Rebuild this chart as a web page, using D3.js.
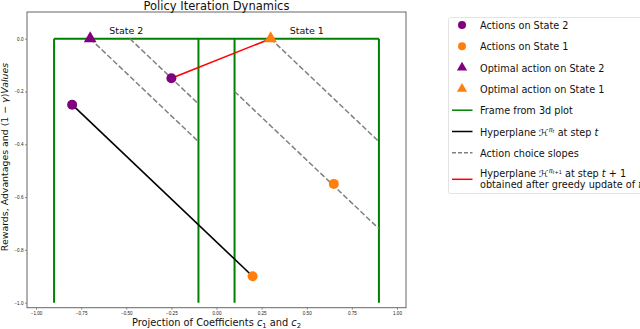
<!DOCTYPE html>
<html>
<head>
<meta charset="utf-8">
<script src="https://cdn.jsdelivr.net/npm/d3@7"></script>
<style>
  body { margin: 0; background: #fff; }
  svg { display: block; font-family: "DejaVu Sans", sans-serif; }
  .tick text { font-size: 4.6px; fill: #222; }
</style>
</head>
<body>
<svg id="chart" width="640" height="329"></svg>
<script>
// --- Data -----------------------------------------------------------
const xTicks = [-1.0, -0.75, -0.5, -0.25, 0.0, 0.25, 0.5, 0.75, 1.0];
const yTicks = [0.0, -0.2, -0.4, -0.6, -0.8, -1.0];

// green frame: verticals + top edge
const frameVerticals = [-0.9, -0.1, 0.1, 0.9];
const frameTop = [[-0.9, 0], [0.9, 0]];

const state2Actions = [[-0.8, -0.25], [-0.25, -0.15]];
const state1Actions = [[0.2, -0.9], [0.65, -0.55]];
const state2Optimal = [[-0.7, 0]];
const state1Optimal = [[0.3, 0]];

const hyperplaneT = [[-0.8, -0.25], [0.2, -0.9]];
const hyperplaneT1 = [[-0.25, -0.15], [0.3, 0]];

const slopeLines = [
  [[-0.7, 0], [-0.1, -0.39]],
  [[-0.48, 0], [-0.1, -0.247]],
  [[0.3, 0], [0.9, -0.39]],
  [[0.1, -0.2], [0.9, -0.72]]
];

const stateLabels = [
  { text: "State 2", x: -0.5 },
  { text: "State 1", x: 0.5 }
];

// --- Layout ---------------------------------------------------------
const svg = d3.select("#chart");
const axLeft = 27, axRight = 406, axTop = 12, axBottom = 307.7;

const x = d3.scaleLinear().domain([-1.05, 1.05]).range([axLeft, axRight]);
const y = d3.scaleLinear().domain([-1.019, 0.101]).range([axBottom, axTop]);

const PURPLE = "#800080", ORANGE = "#ff7f0e", GREEN = "#008000";

// axes
svg.append("g").attr("transform", `translate(0,${axBottom})`)
  .call(d3.axisBottom(x).tickValues(xTicks).tickSize(2).tickPadding(2)
    .tickFormat(d => d3.format(".2f")(d).replace("-", "\u2212")));
svg.append("g").attr("transform", `translate(${axLeft},0)`)
  .call(d3.axisLeft(y).tickValues(yTicks).tickSize(2).tickPadding(1.5)
    .tickFormat(d => d3.format(".1f")(d).replace("-", "\u2212")));
svg.selectAll(".domain").remove();
svg.selectAll(".tick line").attr("stroke", "#444").attr("stroke-width", 0.6);

svg.append("rect")
  .attr("x", axLeft).attr("y", axTop)
  .attr("width", axRight - axLeft).attr("height", axBottom - axTop)
  .attr("fill", "none").attr("stroke", "#666").attr("stroke-width", 1);

const line = d3.line().x(d => x(d[0])).y(d => y(d[1]));
const plot = svg.append("g");

// frame
frameVerticals.forEach(v => {
  plot.append("path").attr("d", line([[v, 0], [v, -1.0]]))
    .attr("stroke", GREEN).attr("stroke-width", 2).attr("fill", "none");
});
plot.append("path").attr("d", line(frameTop))
  .attr("stroke", GREEN).attr("stroke-width", 2).attr("fill", "none");

// slopes
slopeLines.forEach(s => {
  plot.append("path").attr("d", line(s))
    .attr("stroke", "#808080").attr("stroke-width", 1.5)
    .attr("stroke-dasharray", "5.5,2.4").attr("fill", "none");
});

plot.append("path").attr("d", line(hyperplaneT))
  .attr("stroke", "#000").attr("stroke-width", 1.6).attr("fill", "none");
plot.append("path").attr("d", line(hyperplaneT1))
  .attr("stroke", "#ff0000").attr("stroke-width", 1.6).attr("fill", "none");

const tri = d3.symbol().type(d3.symbolTriangle);

function circles(data, color) {
  plot.selectAll(null).data(data).enter().append("circle")
    .attr("cx", d => x(d[0])).attr("cy", d => y(d[1])).attr("r", 5)
    .attr("fill", color);
}
function triangles(data, color) {
  plot.selectAll(null).data(data).enter().append("path")
    .attr("d", tri.size(70)())
    .attr("transform", d => `translate(${x(d[0])},${y(d[1])})`)
    .attr("fill", color);
}
circles(state2Actions, PURPLE);
circles(state1Actions, ORANGE);
triangles(state2Optimal, PURPLE);
triangles(state1Optimal, ORANGE);

stateLabels.forEach(s => {
  svg.append("text").attr("x", x(s.x)).attr("y", 33.5)
    .attr("text-anchor", "middle").attr("font-size", 9.5).attr("fill", "#111")
    .text(s.text);
});

// titles
svg.append("text").attr("x", (axLeft + axRight) / 2).attr("y", 10)
  .attr("text-anchor", "middle").attr("font-size", 11.5).attr("fill", "#111")
  .text("Policy Iteration Dynamics");
svg.append("text").attr("x", (axLeft + axRight) / 2).attr("y", 325.5)
  .attr("text-anchor", "middle").attr("font-size", 9.8).attr("fill", "#111")
  .html('Projection of Coefficients <tspan font-style="italic">c</tspan><tspan font-size="6.8" dy="2">1</tspan><tspan dy="-2"> and </tspan><tspan font-style="italic">c</tspan><tspan font-size="6.8" dy="2">2</tspan>');
svg.append("text").attr("transform", "translate(7.5,157) rotate(-90)")
  .attr("text-anchor", "middle").attr("font-size", 9.4).attr("fill", "#111")
  .html('Rewards, Advantages and (1 \u2212 <tspan font-style="italic">\u03b3</tspan>)<tspan font-style="italic">Values</tspan>');

// --- Legend ---------------------------------------------------------
const lg = svg.append("g");
lg.append("rect").attr("x", 448.5).attr("y", 17.5).attr("width", 200).attr("height", 176)
  .attr("rx", 2).attr("fill", "#fff").attr("stroke", "#ddd").attr("stroke-width", 0.8);

const legendRows = [
  { kind: "circle", color: PURPLE, label: "Actions on State 2" },
  { kind: "circle", color: ORANGE, label: "Actions on State 1" },
  { kind: "tri", color: PURPLE, label: "Optimal action on State 2" },
  { kind: "tri", color: ORANGE, label: "Optimal action on State 1" },
  { kind: "line", color: GREEN, label: "Frame from 3d plot" },
  { kind: "line", color: "#000", label: 'Hyperplane <tspan>\u210b</tspan><tspan font-size="6.5" dy="-4" font-style="italic">\u03c0</tspan><tspan font-size="5" dy="1.5" font-style="italic">t</tspan><tspan dy="2.5"> at step </tspan><tspan font-style="italic">t</tspan>' },
  { kind: "dash", color: "#808080", label: "Action choice slopes" },
  { kind: "line", color: "#ff0000", label: 'Hyperplane <tspan>\u210b</tspan><tspan font-size="6.5" dy="-4" font-style="italic">\u03c0</tspan><tspan font-size="5" dy="1.5"><tspan font-style="italic">t</tspan>+1</tspan><tspan dy="2.5"> at step </tspan><tspan font-style="italic">t</tspan> + 1', label2: 'obtained after greedy update of <tspan font-style="italic">\u03c0</tspan>' }
];
const rowY = [25, 46.3, 67.6, 88.9, 110.2, 131.5, 152.8, 179.3];
legendRows.forEach((r, i) => {
  const cy = rowY[i];
  if (r.kind === "circle") {
    lg.append("circle").attr("cx", 462).attr("cy", cy).attr("r", 4).attr("fill", r.color);
  } else if (r.kind === "tri") {
    lg.append("path").attr("d", tri.size(45)()).attr("transform", `translate(462,${cy})`).attr("fill", r.color);
  } else {
    lg.append("line").attr("x1", 452).attr("x2", 472.5).attr("y1", cy).attr("y2", cy)
      .attr("stroke", r.color).attr("stroke-width", 1.5)
      .attr("stroke-dasharray", r.kind === "dash" ? "4,2" : null);
  }
  if (r.label2) {
    lg.append("text").attr("x", 480).attr("y", cy - 2.5).attr("font-size", 9.7).attr("fill", "#111").html(r.label);
    lg.append("text").attr("x", 480).attr("y", cy + 9).attr("font-size", 9.7).attr("fill", "#111").html(r.label2);
  } else {
    lg.append("text").attr("x", 480).attr("y", cy + 4).attr("font-size", 9.7).attr("fill", "#111").html(r.label);
  }
});
</script>
</body>
</html>
